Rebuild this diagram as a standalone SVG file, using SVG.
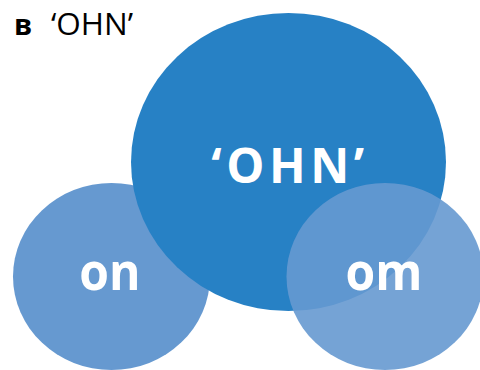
<svg xmlns="http://www.w3.org/2000/svg" width="480" height="370" viewBox="0 0 480 370">
<style>
.lbl{font-family:"Open Sans","Noto Sans",sans-serif;font-weight:700;fill:#ffffff;text-anchor:middle}
.small{fill:#6699d0}
</style>
<rect width="480" height="370" fill="#ffffff"/>
<g id="title">
<text x="14" y="35" font-family="'Open Sans','Noto Sans',sans-serif" font-weight="700" font-size="29" fill="#000">в</text>
<text x="51" y="35" font-family="'Open Sans','Noto Sans',sans-serif" font-size="31.5" fill="#000">‘OHN’</text>
</g>
<g id="connectors"></g>
<g id="node-on">
<ellipse class="small" cx="111.5" cy="276.5" rx="98.5" ry="93.5"/>
<text class="lbl" x="110" y="290" font-size="48" transform="translate(110 290) scale(1 1.08) translate(-110 -290)">on</text>
</g>
<g id="node-ohn">
<ellipse cx="288.5" cy="162" rx="157.5" ry="149" fill="#2781c5"/>
<text class="lbl" x="290" y="183" font-size="48" letter-spacing="4.5">‘OHN’</text>
</g>
<g id="node-om">
<ellipse class="small" cx="385" cy="276.5" rx="98.5" ry="93.5" fill-opacity="0.9"/>
<text class="lbl" x="384" y="290" font-size="48" transform="translate(384 290) scale(1 1.08) translate(-384 -290)">om</text>
</g>
</svg>
